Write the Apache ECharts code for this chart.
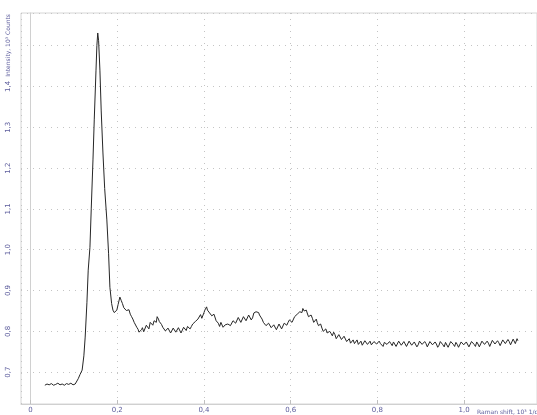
<!DOCTYPE html>
<html>
<head>
<meta charset="utf-8">
<script src="https://cdn.jsdelivr.net/npm/echarts@6/dist/echarts.min.js"></script>
<style>
html,body{margin:0;padding:0;background:#fff;}
#myChart{width:537px;height:415px;}
</style>
</head>
<body>
<div id="myChart"></div>
<script>
// Raman spectrum, x: Raman shift (10^3 1/cm), y: intensity (10^3 counts)
var spectrum = [
	[0.033,0.668],[0.038,0.671],[0.043,0.669],[0.048,0.672],[0.053,0.668],[0.058,0.670],[0.063,0.673],[0.068,0.669],
	[0.073,0.671],[0.078,0.668],[0.083,0.672],[0.088,0.670],[0.093,0.673],[0.098,0.669],[0.103,0.671],[0.107,0.675],
	[0.110,0.684],[0.114,0.694],[0.119,0.705],[0.123,0.740],[0.126,0.786],[0.130,0.870],[0.133,0.950],[0.137,1.006],
	[0.140,1.100],[0.144,1.220],[0.147,1.320],[0.151,1.440],[0.153,1.500],[0.155,1.531],[0.157,1.512],[0.160,1.440],
	[0.163,1.340],[0.167,1.237],[0.171,1.150],[0.176,1.073],[0.180,0.990],[0.183,0.908],[0.187,0.868],[0.190,0.852],
	[0.193,0.846],[0.196,0.843],[0.199,0.852],[0.202,0.866],[0.206,0.884],[0.209,0.876],[0.212,0.868],[0.215,0.858],
	[0.218,0.862],[0.221,0.851],[0.224,0.849],[0.227,0.853],[0.230,0.842],[0.233,0.836],[0.236,0.830],[0.239,0.822],
	[0.242,0.818],[0.245,0.810],[0.248,0.805],[0.250,0.798],[0.253,0.796],[0.256,0.804],[0.258,0.809],[0.261,0.799],
	[0.264,0.803],[0.267,0.815],[0.270,0.812],[0.273,0.806],[0.276,0.822],[0.279,0.818],[0.282,0.815],[0.285,0.826],
	[0.288,0.828],[0.290,0.822],[0.292,0.836],[0.295,0.830],[0.297,0.824],[0.300,0.820],[0.302,0.817],[0.305,0.810],
	[0.308,0.806],[0.311,0.801],[0.314,0.798],[0.317,0.808],[0.320,0.804],[0.323,0.796],[0.326,0.797],[0.329,0.808],
	[0.332,0.806],[0.335,0.798],[0.338,0.800],[0.341,0.809],[0.344,0.805],[0.347,0.796],[0.350,0.799],[0.353,0.810],
	[0.356,0.808],[0.359,0.802],[0.362,0.812],[0.365,0.815],[0.368,0.806],[0.371,0.812],[0.374,0.818],[0.377,0.816],
	[0.380,0.824],[0.383,0.822],[0.386,0.830],[0.389,0.834],[0.392,0.841],[0.395,0.832],[0.397,0.836],[0.400,0.846],
	[0.402,0.852],[0.404,0.856],[0.406,0.860],[0.408,0.852],[0.410,0.848],[0.413,0.845],[0.415,0.842],[0.418,0.838],
	[0.420,0.835],[0.423,0.842],[0.425,0.838],[0.428,0.826],[0.430,0.830],[0.433,0.820],[0.436,0.812],[0.439,0.822],
	[0.441,0.818],[0.444,0.810],[0.446,0.806],[0.449,0.816],[0.452,0.812],[0.455,0.818],[0.458,0.822],[0.461,0.814],
	[0.464,0.818],[0.467,0.826],[0.470,0.829],[0.473,0.820],[0.476,0.823],[0.479,0.834],[0.482,0.832],[0.485,0.822],
	[0.488,0.826],[0.491,0.836],[0.494,0.835],[0.497,0.826],[0.500,0.829],[0.503,0.840],[0.506,0.838],[0.509,0.828],
	[0.512,0.833],[0.515,0.845],[0.518,0.842],[0.520,0.848],[0.523,0.852],[0.526,0.846],[0.528,0.840],[0.531,0.835],
	[0.534,0.830],[0.537,0.822],[0.540,0.818],[0.543,0.814],[0.546,0.811],[0.549,0.820],[0.552,0.816],[0.555,0.809],
	[0.558,0.806],[0.561,0.816],[0.564,0.813],[0.567,0.804],[0.570,0.808],[0.573,0.818],[0.576,0.815],[0.579,0.806],
	[0.582,0.809],[0.585,0.820],[0.588,0.818],[0.591,0.815],[0.594,0.822],[0.597,0.828],[0.600,0.831],[0.603,0.822],
	[0.606,0.826],[0.609,0.836],[0.612,0.838],[0.615,0.842],[0.618,0.845],[0.621,0.848],[0.624,0.852],[0.626,0.846],
	[0.628,0.856],[0.631,0.850],[0.633,0.848],[0.636,0.852],[0.638,0.845],[0.641,0.836],[0.644,0.838],[0.647,0.840],
	[0.650,0.832],[0.653,0.822],[0.656,0.826],[0.659,0.830],[0.661,0.822],[0.664,0.814],[0.666,0.812],[0.669,0.818],
	[0.672,0.808],[0.675,0.800],[0.678,0.801],[0.681,0.806],[0.684,0.796],[0.687,0.793],[0.690,0.800],[0.693,0.795],
	[0.696,0.789],[0.699,0.798],[0.702,0.792],[0.705,0.782],[0.708,0.784],[0.711,0.792],[0.714,0.788],[0.717,0.780],
	[0.720,0.779],[0.723,0.788],[0.726,0.784],[0.729,0.775],[0.732,0.776],[0.735,0.782],[0.738,0.771],[0.741,0.775],
	[0.744,0.779],[0.747,0.770],[0.750,0.772],[0.753,0.779],[0.756,0.768],[0.759,0.772],[0.762,0.776],[0.765,0.766],
	[0.768,0.770],[0.771,0.777],[0.774,0.778],[0.777,0.768],[0.780,0.771],[0.783,0.776],[0.786,0.767],[0.789,0.764],
	[0.792,0.775],[0.795,0.772],[0.798,0.769],[0.801,0.765],[0.804,0.776],[0.807,0.770],[0.810,0.766],[0.813,0.763],
	[0.816,0.773],[0.819,0.777],[0.822,0.768],[0.825,0.765],[0.828,0.775],[0.831,0.770],[0.834,0.765],[0.837,0.774],
	[0.840,0.771],[0.843,0.763],[0.846,0.767],[0.849,0.776],[0.852,0.774],[0.855,0.766],[0.858,0.764],[0.861,0.775],
	[0.864,0.771],[0.867,0.763],[0.870,0.766],[0.873,0.776],[0.876,0.773],[0.879,0.766],[0.882,0.763],[0.885,0.774],
	[0.888,0.770],[0.891,0.762],[0.894,0.767],[0.897,0.776],[0.900,0.773],[0.903,0.768],[0.906,0.764],[0.909,0.775],
	[0.912,0.770],[0.915,0.762],[0.918,0.765],[0.921,0.775],[0.924,0.772],[0.927,0.767],[0.930,0.763],[0.933,0.774],
	[0.936,0.769],[0.939,0.761],[0.942,0.766],[0.945,0.775],[0.948,0.772],[0.951,0.767],[0.954,0.762],[0.957,0.773],
	[0.960,0.769],[0.963,0.761],[0.966,0.765],[0.969,0.775],[0.972,0.771],[0.975,0.768],[0.978,0.763],[0.981,0.773],
	[0.984,0.768],[0.987,0.761],[0.990,0.765],[0.993,0.774],[0.996,0.772],[0.999,0.767],[1.002,0.764],[1.005,0.774],
	[1.008,0.770],[1.011,0.762],[1.014,0.765],[1.017,0.775],[1.020,0.772],[1.023,0.768],[1.026,0.763],[1.029,0.774],
	[1.032,0.769],[1.035,0.762],[1.038,0.766],[1.041,0.776],[1.044,0.773],[1.047,0.768],[1.050,0.765],[1.053,0.776],
	[1.056,0.771],[1.059,0.763],[1.062,0.767],[1.065,0.778],[1.068,0.774],[1.071,0.769],[1.074,0.766],[1.077,0.777],
	[1.080,0.772],[1.083,0.765],[1.086,0.768],[1.089,0.779],[1.092,0.776],[1.095,0.770],[1.098,0.769],[1.101,0.780],
	[1.104,0.775],[1.107,0.767],[1.110,0.770],[1.113,0.781],[1.116,0.778],[1.118,0.770],[1.120,0.772],[1.122,0.782],
	[1.124,0.777]
];
var xTickLabels = {'0':'0','0.2':'0,2','0.4':'0,4','0.6':'0,6','0.8':'0,8','1':'1,0'};
var yTickLabels = {'0.7':'0,7','0.8':'0,8','0.9':'0,9','1':'1,0','1.1':'1,1','1.2':'1,2','1.3':'1,3','1.4':'1,4'};
var xTitle = 'Raman shift, 10³ 1/cm';
var yTitle = 'Intensity, 10³ Counts';

var labelColor = '#5c5c9c';
var gridLine = {show: true, lineStyle: {color: '#c4c4c4', type: [1, 5], width: 1}};

var myChart = echarts.init(document.getElementById('myChart'));
myChart.setOption({
	animation: false,
	backgroundColor: '#fff',
	grid: {left: 21, right: 0, top: 13, bottom: 11, show: true, borderColor: '#d6d6d6', borderWidth: 1},
	xAxis: {
		type: 'value',
		min: -0.022,
		max: 1.168,
		splitNumber: 6,
		axisLine: {lineStyle: {color: '#d0d0d0'}},
		axisTick: {show: true, inside: true, length: 4, lineStyle: {color: '#c0c0c0'}},
		axisLabel: {
			showMinLabel: false, showMaxLabel: false, margin: 3,
			fontSize: 7, color: labelColor, fontFamily: 'DejaVu Sans',
			formatter: function(v) { return xTickLabels[String(Math.round(v * 10) / 10)] || ''; }
		},
		splitLine: gridLine
	},
	yAxis: {
		type: 'value',
		min: 0.622,
		max: 1.58,
		splitNumber: 9,
		axisLine: {show: true, lineStyle: {color: '#d0d0d0'}},
		axisTick: {show: false},
		axisLabel: {
			showMinLabel: false, showMaxLabel: false, margin: 9, rotate: 90,
			fontSize: 7, color: labelColor, fontFamily: 'DejaVu Sans',
			formatter: function(v) { return yTickLabels[String(Math.round(v * 10) / 10)] || ''; }
		},
		splitLine: gridLine
	},
	graphic: [
		{type: 'text', x: 8, y: 14, rotation: Math.PI / 2,
		 style: {text: yTitle, x: 0, y: 0, align: 'right', verticalAlign: 'middle', font: '6px DejaVu Sans', fill: labelColor}},
		{type: 'text', x: 477, y: 412,
		 style: {text: xTitle, x: 0, y: 0, align: 'left', verticalAlign: 'middle', font: '6px DejaVu Sans', fill: labelColor}}
	],
	series: [{
		type: 'line',
		data: spectrum,
		showSymbol: false,
		lineStyle: {color: '#262626', width: 1},
		silent: true
	}]
});
</script>
</body>
</html>
